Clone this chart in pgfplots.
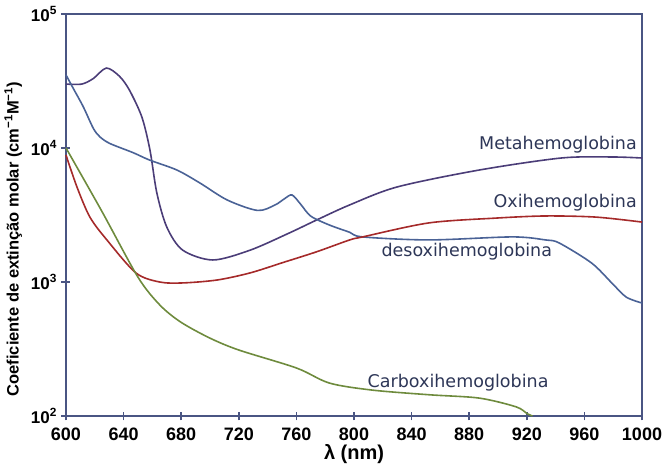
\documentclass[border=0pt]{standalone}
\usepackage{fontspec}
\setmainfont{Liberation Sans}
\newfontfamily\labfont{DejaVu Sans}
\usepackage{pgfplots}
\pgfplotsset{compat=1.18}
\definecolor{axiscol}{HTML}{4A5583}
\definecolor{metacol}{HTML}{4B3D78}
\definecolor{desoxcol}{HTML}{4A6296}
\definecolor{oxicol}{HTML}{A52A2A}
\definecolor{carbcol}{HTML}{6E8B3D}
\definecolor{txtcol}{HTML}{2D3657}
\begin{document}
\begin{tikzpicture}
\begin{axis}[
  scale only axis, width=576pt, height=402pt,
  xmin=600, xmax=1000, ymin=100, ymax=100000, ymode=log,
  xtick={600,640,...,1000},
  ytick={100,1000,10000,100000},
  yticklabels={\textbf{10}\textsuperscript{\textbf{2}},\textbf{10}\textsuperscript{\textbf{3}},\textbf{10}\textsuperscript{\textbf{4}},\textbf{10}\textsuperscript{\textbf{5}}},
  yminorticks=false,
  tick pos=left, tick align=center,
  major tick length=9pt,
  axis line style={draw=axiscol, line width=1.8pt},
  tick style={draw=axiscol, line width=1.5pt},
  clip=false,
  /pgf/number format/1000 sep={},
  /pgf/number format/assume math mode=true,
  xticklabel style={font=\bfseries\fontsize{18}{18}\selectfont, yshift=-4pt},
  yticklabel style={font=\bfseries\fontsize{17}{17}\selectfont, xshift=-1pt},
  xlabel={\textbf{λ (nm)}},
  xlabel style={font=\fontsize{20}{20}\selectfont, yshift=3pt},
  ylabel={\textbf{Coeficiente de extinção molar (cm\textsuperscript{−1}M\textsuperscript{−1})}},
  ylabel style={font=\fontsize{16.5}{16.5}\selectfont, at={(ticklabel cs:0.44)}, anchor=near ticklabel, yshift=2pt},
]
% Metahemoglobina
\addplot[color=metacol, line width=1.6pt, smooth, tension=0.5] coordinates {
(600,30000) (611,30000) (619,33000) (628,39500) (637,34400) (644,27100)
(652.7,17000) (658.3,9660) (663.1,4610) (670,2570) (681,1730) (702,1460)
(728,1730) (755,2320) (774,2900) (797,3760) (830,5120) (887,6850)
(944,8420) (979,8570) (1000,8420)};
% desoxihemoglobina
\addplot[color=desoxcol, line width=1.6pt, smooth, tension=0.5] coordinates {
(600,35100) (605,27900) (612,20300) (619,14000) (623.6,12100) (630.5,10800)
(646.7,9220) (658,8130)
(677,6850) (693,5480) (712,4090) (733,3420) (745,3750) (752,4200) (757,4460)
(763,3800) (770,3100) (783,2660) (797,2350) (806,2170) (852,2060)
(910,2170) (933,2060) (942.5,1955) (965,1385) (979,984) (989,772) (1000,697)};
% Oxihemoglobina
\addplot[color=oxicol, line width=1.6pt, smooth, tension=0.5] coordinates {
(600,8870) (607.6,5120) (616.6,3050) (628.4,2060) (648.5,1170) (665,1000)
(681,984) (705,1035) (728,1170) (750,1390) (774,1680) (797,2060)
(806,2170) (852,2760) (899,3000) (933,3110) (968,3050) (1000,2800)};
% Carboxihemoglobina
\addplot[color=carbcol, line width=1.6pt, smooth, tension=0.5] coordinates {
(600,10000) (624.7,3400) (649.9,1090) (665.2,673) (679.7,502) (699.8,382)
(719.9,311) (760.1,228) (783,176) (812.8,156) (852.3,144) (887,136)
(912.6,117) (920.3,104) (924,100)};
\node[anchor=east, font=\labfont\fontsize{17.5}{17.5}\selectfont, text=txtcol, inner sep=0pt] at (axis cs:996.5,10500) {Metahemoglobina};
\node[anchor=east, font=\labfont\fontsize{17.5}{17.5}\selectfont, text=txtcol, inner sep=0pt] at (axis cs:996.5,3890) {Oxihemoglobina};
\node[anchor=west, font=\labfont\fontsize{17.5}{17.5}\selectfont, text=txtcol, inner sep=0pt] at (axis cs:819,1675) {desoxihemoglobina};
\node[anchor=west, font=\labfont\fontsize{17.5}{17.5}\selectfont, text=txtcol, inner sep=0pt] at (axis cs:809.4,176) {Carboxihemoglobina};
\end{axis}
\pgfresetboundingbox
\path ([shift={(-66pt,-59pt)}]current axis.south west) rectangle ([shift={(23pt,14pt)}]current axis.north east);
\end{tikzpicture}
\end{document}
